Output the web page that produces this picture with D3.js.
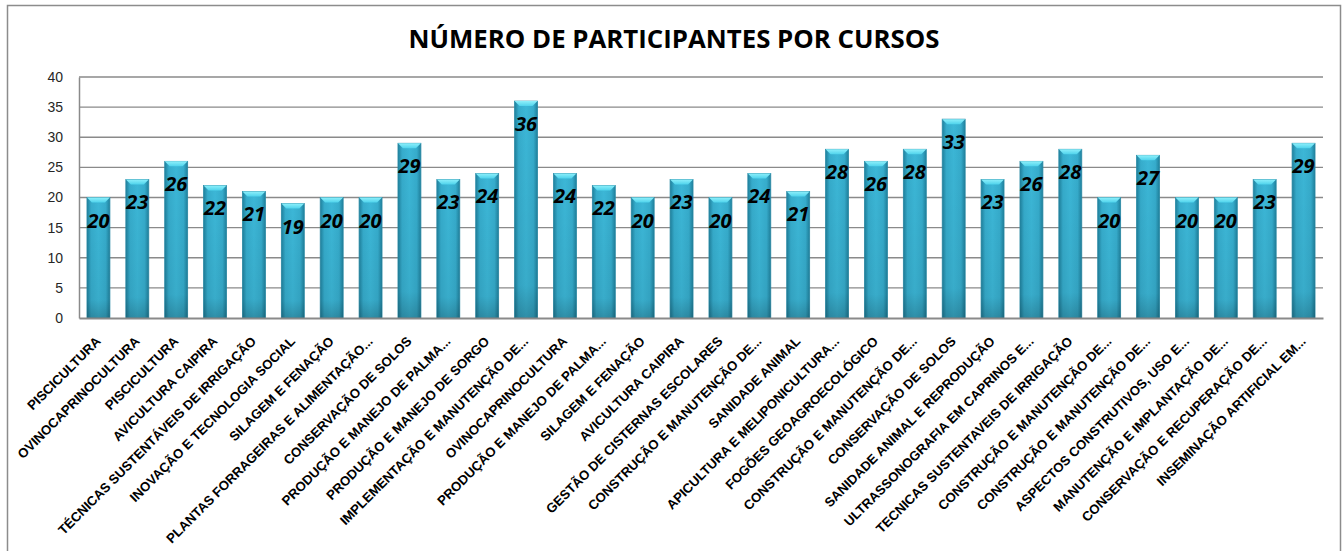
<!DOCTYPE html>
<html>
<head>
<meta charset="utf-8">
<script src="https://cdn.jsdelivr.net/npm/d3@7"></script>
<style>
  body { margin: 0; background: #fff; }
  svg { display: block; font-family: "Open Sans", "Noto Sans", sans-serif; }
</style>
</head>
<body>
<svg id="chart" width="1344" height="551"></svg>
<script>
var chartTitle = 'NÚMERO DE PARTICIPANTES POR CURSOS';

var cursos = [
  'PISCICULTURA',
  'OVINOCAPRINOCULTURA',
  'PISCICULTURA',
  'AVICULTURA CAIPIRA',
  'TÉCNICAS SUSTENTÁVEIS DE IRRIGAÇÃO',
  'INOVAÇÃO E TECNOLOGIA SOCIAL',
  'SILAGEM E FENAÇÃO',
  'PLANTAS FORRAGEIRAS E ALIMENTAÇÃO...',
  'CONSERVAÇÃO DE SOLOS',
  'PRODUÇÃO E MANEJO DE PALMA...',
  'PRODUÇÃO E MANEJO DE SORGO',
  'IMPLEMENTAÇÃO E MANUTENÇÃO DE...',
  'OVINOCAPRINOCULTURA',
  'PRODUÇÃO E MANEJO DE PALMA...',
  'SILAGEM E FENAÇÃO',
  'AVICULTURA CAIPIRA',
  'GESTÃO DE CISTERNAS ESCOLARES',
  'CONSTRUÇÃO E MANUTENÇÃO DE...',
  'SANIDADE ANIMAL',
  'APICULTURA E MELIPONICULTURA...',
  'FOGÕES GEOAGROECOLÓGICO',
  'CONSTRUÇÃO E MANUTENÇÃO DE...',
  'CONSERVAÇÃO DE SOLOS',
  'SANIDADE ANIMAL E REPRODUÇÃO',
  'ULTRASSONOGRAFIA EM CAPRINOS E...',
  'TECNICAS SUSTENTAVEIS DE IRRIGAÇÃO',
  'CONSTRUÇÃO E MANUTENÇÃO DE...',
  'CONSTRUÇÃO E MANUTENÇÃO DE...',
  'ASPECTOS CONSTRUTIVOS, USO E...',
  'MANUTENÇÃO E IMPLANTAÇÃO DE...',
  'CONSERVAÇÃO E RECUPERAÇÃO DE...',
  'INSEMINAÇÃO ARTIFICIAL EM...'
];

var participantes = [20, 23, 26, 22, 21, 19, 20, 20, 29, 23, 24, 36, 24, 22, 20, 23,
  20, 24, 21, 28, 26, 28, 33, 23, 26, 28, 20, 27, 20, 20, 23, 29];

var yTicks = [0, 5, 10, 15, 20, 25, 30, 35, 40];

var data = cursos.map(function(c, i) {
  return { idx: i, curso: c, valor: participantes[i] };
});

var svg = d3.select('#chart');

var margin = { top: 77, right: 21, bottom: 233, left: 79 },
  width = 1344 - margin.left - margin.right,
  height = 551 - margin.top - margin.bottom;

// outer frame
svg.append('rect')
  .attr('x', 7.5).attr('y', 5.5)
  .attr('width', 1333).attr('height', 560)
  .attr('fill', '#fff')
  .attr('stroke', '#8c8c8c')
  .attr('stroke-width', 1.5);

svg.append('text')
  .attr('x', 674)
  .attr('y', 48)
  .attr('text-anchor', 'middle')
  .style('font-size', '25.8px')
  .style('font-weight', 'bold')
  .style('fill', '#000')
  .text(chartTitle);

// gradients for the bevelled bars
var defs = svg.append('defs');
var bodyGrad = defs.append('linearGradient')
  .attr('id', 'barBody').attr('x1', 0).attr('x2', 1).attr('y1', 0).attr('y2', 0);
bodyGrad.append('stop').attr('offset', '0%').attr('stop-color', '#1f809c');
bodyGrad.append('stop').attr('offset', '18%').attr('stop-color', '#36accc');
bodyGrad.append('stop').attr('offset', '50%').attr('stop-color', '#3cb7d7');
bodyGrad.append('stop').attr('offset', '82%').attr('stop-color', '#36accc');
bodyGrad.append('stop').attr('offset', '100%').attr('stop-color', '#1f809c');

var shadeGrad = defs.append('linearGradient')
  .attr('id', 'barShade').attr('x1', 0).attr('x2', 0).attr('y1', 0).attr('y2', 1);
shadeGrad.append('stop').attr('offset', '0%').attr('stop-color', '#000').attr('stop-opacity', 0);
shadeGrad.append('stop').attr('offset', '85%').attr('stop-color', '#000').attr('stop-opacity', 0.06);
shadeGrad.append('stop').attr('offset', '100%').attr('stop-color', '#000').attr('stop-opacity', 0.22);

var capGrad = defs.append('linearGradient')
  .attr('id', 'barCap').attr('x1', 0).attr('x2', 0).attr('y1', 0).attr('y2', 1);
capGrad.append('stop').attr('offset', '0%').attr('stop-color', '#8ef0fb');
capGrad.append('stop').attr('offset', '100%').attr('stop-color', '#4fd3ec');

var g = svg.append('g')
  .attr('transform', 'translate(' + margin.left + ',' + margin.top + ')');

var x = d3.scaleBand()
  .domain(data.map(function(d) { return d.idx; }))
  .range([0, width])
  .paddingInner(0.41)
  .paddingOuter(0.205);

var y = d3.scaleLinear().domain([0, 40]).range([height, 0]);

// gridlines
g.append('g')
  .attr('class', 'grid')
  .selectAll('line')
  .data(yTicks.slice(1))
  .enter().append('line')
  .attr('x1', 0).attr('x2', width)
  .attr('y1', function(d) { return y(d); })
  .attr('y2', function(d) { return y(d); })
  .attr('stroke', '#8a8a8a')
  .attr('stroke-width', 1.3);

var yAxis = g.append('g')
  .call(d3.axisLeft(y).tickValues(yTicks).tickSize(0).tickPadding(16));
yAxis.select('.domain').attr('stroke', '#8a8a8a').attr('stroke-width', 1.5);
yAxis.selectAll('text')
  .style('font-size', '14px')
  .style('fill', '#262626');

var bars = g.selectAll('.bar')
  .data(data)
  .enter().append('g')
  .attr('class', 'bar');

bars.append('rect')
  .attr('x', function(d) { return x(d.idx); })
  .attr('y', function(d) { return y(d.valor); })
  .attr('width', x.bandwidth())
  .attr('height', function(d) { return height - y(d.valor); })
  .attr('fill', 'url(#barBody)')
  .attr('stroke', '#2a8aa6')
  .attr('stroke-width', 0.8);

bars.append('rect')
  .attr('x', function(d) { return x(d.idx); })
  .attr('y', function(d) { return y(d.valor); })
  .attr('width', x.bandwidth())
  .attr('height', function(d) { return height - y(d.valor); })
  .attr('fill', 'url(#barShade)');

// bevelled top cap
bars.append('path')
  .attr('d', function(d) {
    var x0 = x(d.idx), x1 = x0 + x.bandwidth(), t = y(d.valor), b = 5;
    return 'M' + x0 + ',' + t + 'L' + x1 + ',' + t +
      'L' + (x1 - b) + ',' + (t + b) + 'L' + (x0 + b) + ',' + (t + b) + 'Z';
  })
  .attr('fill', 'url(#barCap)');

bars.append('text')
  .attr('x', function(d) { return x(d.idx) + x.bandwidth() / 2; })
  .attr('y', function(d) { return y(d.valor) + 30; })
  .attr('text-anchor', 'middle')
  .style('font-size', '20px')
  .style('font-weight', 'bold')
  .style('font-style', 'italic')
  .style('fill', '#000')
  .text(function(d) { return d.valor; });

// x axis
var xAxis = g.append('g')
  .attr('transform', 'translate(0,' + height + ')')
  .call(d3.axisBottom(x).tickSize(0).tickFormat(function(i) { return cursos[i]; }));
xAxis.select('.domain').attr('stroke', '#8a8a8a').attr('stroke-width', 2);
xAxis.selectAll('text')
  .attr('text-anchor', 'end')
  .attr('dy', 0)
  .attr('transform', 'translate(1,22) rotate(-45)')
  .style('font-size', '13.2px')
  .style('font-weight', 'bold')
  .style('fill', '#000');
</script>
</body>
</html>
